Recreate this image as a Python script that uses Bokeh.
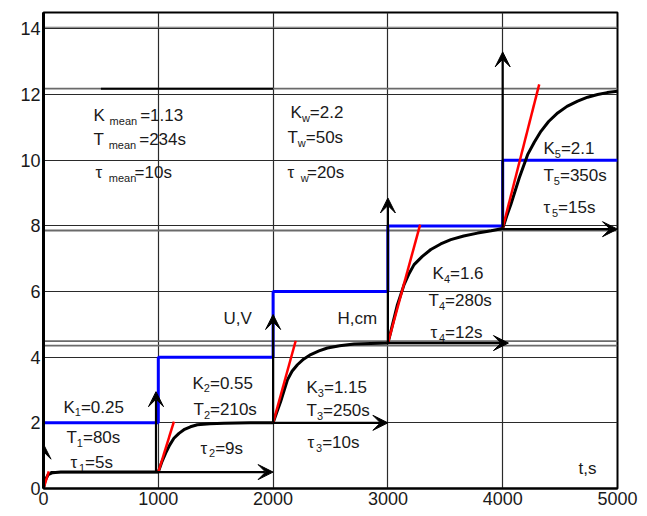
from bokeh.plotting import figure
from bokeh.models import Arrow, VeeHead, ColumnDataSource, Range1d, FixedTicker
from bokeh.core.properties import value
from bokeh.embed import file_html
from bokeh.resources import INLINE

# ---- data ----
x_ticks = [0, 1000, 2000, 3000, 4000, 5000]
y_ticks = [0, 2, 4, 6, 8, 10, 12, 14]

# input U,V step levels (blue)
step_x = [0, 1000, 2000, 3000, 4000, 5000]
step_u = [2, 4, 6, 8, 10, 10]

# output H,cm response (black), read point by point
resp_t = [0, 15, 40, 80, 150, 1000,
          1030, 1064, 1100, 1136, 1180, 1223, 1280, 1340, 1450, 1572, 1800, 2000,
          2030, 2066, 2125, 2165, 2212, 2265, 2328, 2400, 2473, 2580, 2705, 2850, 3000,
          3020, 3040, 3083, 3141, 3185, 3228, 3300, 3374, 3460, 3548, 3660, 3781, 3900, 4000,
          4035, 4071, 4144, 4217, 4275, 4333, 4400, 4479, 4560, 4653, 4740, 4827, 4910, 5000]
resp_h = [0, 0.25, 0.42, 0.48, 0.5, 0.5,
          0.8, 1.08, 1.33, 1.53, 1.68, 1.79, 1.88, 1.94, 1.97, 1.99, 2.0, 2.0,
          2.3, 2.65, 3.31, 3.57, 3.77, 3.94, 4.08, 4.19, 4.28, 4.35, 4.40, 4.42, 4.43,
          4.7, 4.99, 5.6, 6.21, 6.55, 6.82, 7.07, 7.28, 7.45, 7.58, 7.69, 7.78, 7.85, 7.92,
          8.3, 8.65, 9.46, 10.17, 10.55, 10.88, 11.18, 11.44, 11.64, 11.8, 11.92, 12.0, 12.06, 12.1]

# tangent lines (red)
tan_x0 = [0, 1000, 2000, 3000, 4000]
tan_y0 = [0, 0.5, 2.0, 4.43, 7.94]
tan_x1 = [46, 1136, 2197, 3281, 4318]
tan_y1 = [0.52, 2.04, 4.5, 8.04, 12.31]

# arrows (black)
arr_x0 = [0, 60, 980, 2000, 2000, 3000, 3000, 4000, 4000]
arr_y0 = [0, 0.5, 0.5, 2.0, 2.0, 4.43, 4.43, 7.9, 7.94]
arr_x1 = [0, 2000, 980, 3000, 2000, 4050, 3000, 5000, 4000]
arr_y1 = [1.35, 0.5, 2.95, 2.0, 5.3, 4.43, 8.85, 7.9, 13.3]

# parameter labels: base, subscript, rest
lab_base = ["K", "T", "τ", "K", "T", "τ", "K", "T", "τ", "K", "T", "τ",
            "K", "T", "τ", "K", "T", "τ", "K", "T", "τ"]
lab_sub = ["1", "1", "1", "2", "2", "2", "3", "3", "3", "4", "4", "4",
           "5", "5", "5", " mean", " mean", " mean", "w", "w", " w"]
lab_rest = ["=0.25", "=80s", "=5s", "=0.55", "=210s", "=9s", "=1.15", "=250s", "=10s",
            "=1.6", "=280s", "=12s", "=2.1", "=350s", "=15s",
            " =1.13", " =234s", "=10s", "=2.2", "=50s", "=20s"]
lab_x = [174, 200, 235, 1298, 1307, 1368, 2291, 2291, 2300, 3389, 3354, 3371,
         4355, 4355, 4355, 436, 436, 453, 2152, 2125, 2125]
lab_y = [2.47, 1.55, 0.79, 3.2, 2.4, 1.22, 3.07, 2.37, 1.4, 6.54, 5.72, 4.75,
         10.35, 9.52, 8.55, 11.35, 10.62, 9.62, 11.44, 10.68, 9.62]

axis_names = ["U,V", "H,cm", "t,s"]
axis_name_x = [1568, 2561, 4660]
axis_name_y = [5.17, 5.17, 0.61]

# ---- drawing ----
FONT = "Liberation Sans"
FS = 17
SFS = 11
W = {'K': .667, 'T': .611, 'τ': .5, ' ': .278, '=': .584, '.': .278, 's': .5,
     'm': .833, 'e': .556, 'a': .556, 'n': .556, 'w': .722}


def width(s, fs):
    return sum(W.get(c, .556) for c in s) * fs


p = figure(width=640, height=512, x_range=Range1d(0, 5000), y_range=Range1d(0, 14.5),
           output_backend="svg", toolbar_location=None,
           min_border_left=43, min_border_right=23, min_border_top=12, min_border_bottom=24)
p.background_fill_color = "white"
p.outline_line_color = "black"
p.outline_line_width = 2

p.xaxis.ticker = FixedTicker(ticks=x_ticks)
p.yaxis.ticker = FixedTicker(ticks=y_ticks)
p.xgrid.ticker = FixedTicker(ticks=x_ticks[1:-1])
p.ygrid.ticker = FixedTicker(ticks=y_ticks[1:])
for g in (p.xgrid, p.ygrid):
    g.grid_line_color = "#2a2a2a"
    g.grid_line_width = 1.2
for ax in (p.xaxis, p.yaxis):
    ax.major_label_text_font = FONT
    ax.major_label_text_font_size = "18px"
    ax.major_label_text_color = "#1a1a1a"
    ax.major_tick_out = 0
    ax.major_tick_in = 0
    ax.minor_tick_out = 0
    ax.minor_tick_in = 0
    ax.axis_line_color = "black"
    ax.major_label_standoff = 3
p.yaxis.axis_line_width = 3
p.xaxis.axis_line_width = 2

# extra grey double lines
p.segment(x0=[0, 0, 0, 0], y0=[12.18, 7.86, 4.35, 4.49], x1=[5000, 5000, 5000, 5000],
          y1=[12.18, 7.86, 4.35, 4.49], line_color="#6a6a6a", line_width=1.8)
p.segment(x0=[500], y0=[12.18], x1=[2000], y1=[12.18], line_color="black", line_width=2)
p.segment(x0=[0], y0=[14.05], x1=[5000], y1=[14.05], line_color="#6a6a6a", line_width=1.2)

# input step (blue)
p.step(step_x, step_u, mode="after", line_color="#0000ff", line_width=3)

# arrows
asrc = ColumnDataSource(dict(x0=arr_x0, y0=arr_y0, x1=arr_x1, y1=arr_y1))
p.add_layout(Arrow(end=VeeHead(size=15, fill_color="black", line_color="black", line_width=1),
                   x_start="x0", y_start="y0", x_end="x1", y_end="y1",
                   line_color="black", line_width=2.2, source=asrc))

# response (black)
p.line(resp_t, resp_h, line_color="black", line_width=3)

# tangents (red)
p.segment(x0=tan_x0, y0=tan_y0, x1=tan_x1, y1=tan_y1, line_color="#ff0000", line_width=2.5)

# labels
off_sub = [width(b, FS) + (width(" ", FS) if s.startswith(" ") else 0) for b, s in zip(lab_base, lab_sub)]
off_rest = [width(b, FS) + width(s, SFS) + (width(" ", FS) if r.startswith(" ") else 0)
            for b, s, r in zip(lab_base, lab_sub, lab_rest)]
tsrc = ColumnDataSource(dict(x=lab_x, y=lab_y, base=lab_base, sub=[s.strip() for s in lab_sub],
                             rest=[r.strip() for r in lab_rest], os=off_sub, orr=off_rest))
common = dict(text_font=value(FONT), text_color="#1a1a1a", text_align="left",
              text_baseline="middle", source=tsrc)
p.text(x="x", y="y", text="base", text_font_size=f"{FS}px", **common)
p.text(x="x", y="y", text="sub", x_offset="os", y_offset=5, text_font_size=f"{SFS}px", **common)
p.text(x="x", y="y", text="rest", x_offset="orr", text_font_size=f"{FS}px", **common)

p.text(x=axis_name_x, y=axis_name_y, text=axis_names, text_font=value(FONT),
       text_font_size=f"{FS}px", text_color="#1a1a1a", text_align="left", text_baseline="middle")

open("out.html", "w").write(file_html(p, INLINE))
